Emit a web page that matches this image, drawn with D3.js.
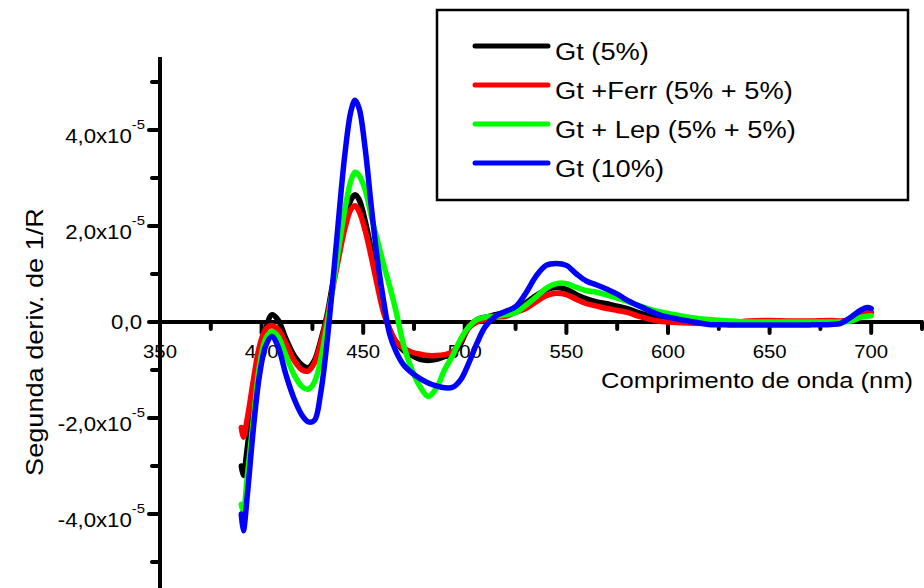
<!DOCTYPE html>
<html>
<head>
<meta charset="utf-8">
<script src="https://cdn.jsdelivr.net/npm/d3@7"></script>
<style>
  html, body { margin: 0; padding: 0; background: #fff; }
  svg { display: block; }
  text { font-family: "Liberation Sans", Arial, sans-serif; fill: #000; }
</style>
</head>
<body>
<svg id="chart" width="924" height="588"></svg>
<script>
// Wavelength grid (nm) shared by every spectrum
const wavelength = [390, 391, 393, 396, 399, 402, 405, 408, 412, 416, 420, 423, 426, 429, 432, 435, 438, 441, 444, 446, 448, 451, 454, 457, 460, 463, 466, 470, 474, 478, 482, 486, 490, 494, 498, 502, 506, 510, 515, 520, 525, 530, 535, 540, 545, 550, 555, 560, 565, 570, 575, 580, 585, 590, 595, 600, 610, 620, 630, 640, 650, 660, 670, 680, 685, 690, 695, 698, 700];

// Second derivative of 1/R, in units of 1e-5
const UNIT = 1e-5;
const gt5 = [-3.0, -3.2, -2.6, -1.6, -0.7, -0.15, 0.15, 0.05, -0.35, -0.7, -0.9, -0.95, -0.8, -0.4, 0.1, 0.8, 1.5, 2.1, 2.55, 2.65, 2.55, 2.1, 1.5, 0.85, 0.25, -0.15, -0.4, -0.6, -0.7, -0.78, -0.8, -0.78, -0.72, -0.68, -0.45, -0.1, 0.05, 0.1, 0.15, 0.2, 0.28, 0.4, 0.55, 0.67, 0.72, 0.68, 0.57, 0.48, 0.42, 0.38, 0.33, 0.28, 0.2, 0.14, 0.08, 0.04, 0.0, -0.03, -0.03, -0.02, -0.02, -0.02, -0.02, 0.0, 0.0, 0.05, 0.18, 0.22, 0.2];
const gtFerr = [-2.2, -2.4, -2.0, -1.2, -0.5, -0.15, -0.08, -0.15, -0.45, -0.8, -1.0, -1.02, -0.85, -0.45, 0.05, 0.7, 1.35, 1.95, 2.35, 2.42, 2.3, 1.9, 1.35, 0.75, 0.2, -0.15, -0.4, -0.55, -0.63, -0.67, -0.7, -0.7, -0.68, -0.62, -0.4, -0.12, 0.0, 0.05, 0.1, 0.12, 0.2, 0.28, 0.42, 0.55, 0.6, 0.57, 0.47, 0.38, 0.33, 0.28, 0.24, 0.2, 0.13, 0.07, 0.02, 0.0, -0.02, -0.03, -0.02, 0.02, 0.03, 0.02, 0.02, 0.03, 0.02, 0.05, 0.15, 0.2, 0.2];
const gtLep = [-3.8, -3.95, -3.2, -2.0, -0.9, -0.35, -0.2, -0.3, -0.7, -1.1, -1.35, -1.4, -1.25, -0.8, -0.1, 0.7, 1.55, 2.35, 2.95, 3.12, 3.05, 2.75, 2.2, 1.7, 1.2, 0.75, 0.25, -0.5, -1.0, -1.35, -1.55, -1.38, -1.0, -0.7, -0.35, -0.1, 0.05, 0.1, 0.12, 0.15, 0.2, 0.35, 0.52, 0.7, 0.8, 0.8, 0.72, 0.65, 0.62, 0.56, 0.5, 0.43, 0.35, 0.28, 0.22, 0.18, 0.1, 0.05, 0.02, 0.0, 0.0, 0.0, 0.0, 0.0, 0.0, 0.02, 0.1, 0.12, 0.13];
const gt10 = [-4.0, -4.35, -3.6, -2.2, -1.1, -0.5, -0.3, -0.5, -1.1, -1.6, -1.95, -2.08, -2.05, -1.5, -0.5, 0.8, 2.2, 3.5, 4.4, 4.62, 4.45, 3.6, 2.4, 1.3, 0.45, -0.25, -0.6, -0.9, -1.06, -1.18, -1.27, -1.33, -1.37, -1.36, -1.2, -0.85, -0.44, -0.1, 0.12, 0.22, 0.32, 0.6, 0.95, 1.18, 1.22, 1.18, 1.0, 0.85, 0.77, 0.68, 0.58, 0.45, 0.35, 0.25, 0.16, 0.1, 0.02, -0.05, -0.06, -0.06, -0.06, -0.06, -0.06, -0.05, -0.03, 0.1, 0.25, 0.3, 0.28];

const seriesNames = ["Gt (5%)", "Gt +Ferr (5% + 5%)", "Gt + Lep (5% + 5%)", "Gt (10%)"];
const seriesValues = [gt5, gtFerr, gtLep, gt10];
const seriesColors = ["#000000", "#ff0000", "#00ff00", "#0000ff"];

// Axis ticks
const xTickValues = [350, 400, 450, 500, 550, 600, 650, 700];
const xTickLabels = ["350", "400", "450", "500", "550", "600", "650", "700"];
const xMinorTicks = [375, 425, 475, 525, 575, 625, 675, 725];
const yTickValues = [4, 2, 0, -2, -4];          // in units of 1e-5
const yTickMantissa = ["4,0x10", "2,0x10", "0,0", "-2,0x10", "-4,0x10"];
const yTickExponent = ["-5", "-5", "", "-5", "-5"];
const yMinorTicks = [5, 3, 1, -1, -3, -5];

const xLabel = "Comprimento de onda (nm)";
const yLabel = "Segunda deriv. de 1/R";

const svg = d3.select("#chart");
const x = d3.scaleLinear().domain([350, 725]).range([160, 922]);
const y = d3.scaleLinear().domain([-5.5 * UNIT, 5.5 * UNIT]).range([586, 58]);

const AX_W = 4;
const SX_TICK = 1.14;   // horizontal stretch of the label lettering

// ---- X axis (drawn at y = 0) ----
const y0 = y(0);
const xAxis = svg.append("g");
xAxis.append("line")
  .attr("x1", x(350) - 2).attr("x2", x(725) + 1)
  .attr("y1", y0).attr("y2", y0)
  .attr("stroke", "#000").attr("stroke-width", AX_W);
xAxis.selectAll("line.major").data(xTickValues.slice(1)).join("line")
  .attr("class", "major")
  .attr("x1", d => x(d)).attr("x2", d => x(d))
  .attr("y1", y0).attr("y2", y0 + 11)
  .attr("stroke", "#000").attr("stroke-width", AX_W).attr("stroke-linecap", "round");
xAxis.selectAll("line.minor").data(xMinorTicks).join("line")
  .attr("class", "minor")
  .attr("x1", d => x(d)).attr("x2", d => x(d))
  .attr("y1", y0).attr("y2", y0 + 7)
  .attr("stroke", "#000").attr("stroke-width", AX_W).attr("stroke-linecap", "round");
xAxis.selectAll("text").data(xTickValues).join("text")
  .attr("transform", d => `translate(${x(d)},${y0 + 36}) scale(1.1,1)`)
  .attr("text-anchor", "middle")
  .style("font-size", "18.5px")
  .text((d, i) => xTickLabels[i]);

// ---- Y axis (drawn at x = 350 nm) ----
const x0 = x(350);
const yAxis = svg.append("g");
yAxis.append("line")
  .attr("x1", x0).attr("x2", x0)
  .attr("y1", y(5.5 * UNIT) - 1).attr("y2", 590)
  .attr("stroke", "#000").attr("stroke-width", AX_W);
yAxis.selectAll("line.major").data(yTickValues).join("line")
  .attr("class", "major")
  .attr("x1", x0 - 11).attr("x2", x0)
  .attr("y1", d => y(d * UNIT)).attr("y2", d => y(d * UNIT))
  .attr("stroke", "#000").attr("stroke-width", AX_W).attr("stroke-linecap", "round");
yAxis.selectAll("line.minor").data(yMinorTicks).join("line")
  .attr("class", "minor")
  .attr("x1", x0 - 8).attr("x2", x0)
  .attr("y1", d => y(d * UNIT)).attr("y2", d => y(d * UNIT))
  .attr("stroke", "#000").attr("stroke-width", AX_W).attr("stroke-linecap", "round");

const yLabels = yAxis.selectAll("text.tick").data(yTickValues).join("text")
  .attr("class", "tick")
  .attr("text-anchor", "end")
  .style("font-size", "19.5px")
  .attr("transform", (d, i) => yTickExponent[i]
    ? `translate(145,${y(d * UNIT) + 13}) scale(${SX_TICK},1)`
    : `translate(142,${y(d * UNIT) + 7}) scale(${SX_TICK},1)`);
yLabels.append("tspan").text((d, i) => yTickMantissa[i]);
yLabels.filter((d, i) => yTickExponent[i] !== "")
  .append("tspan")
  .attr("dy", -14)
  .style("font-size", "13px")
  .text((d, i) => "-5");

// ---- Axis titles ----
svg.append("text")
  .attr("transform", `translate(913,388) scale(1.16,1)`)
  .attr("text-anchor", "end")
  .style("font-size", "22px")
  .text(xLabel);

svg.append("text")
  .attr("transform", `translate(43,342) rotate(-90) scale(1.18,1)`)
  .attr("text-anchor", "middle")
  .style("font-size", "23px")
  .text(yLabel);

// ---- Spectra ----
const line = d3.line()
  .x(d => x(d[0]))
  .y(d => y(d[1] * UNIT))
  .curve(d3.curveCatmullRom.alpha(0.5));

svg.append("g").selectAll("path").data(seriesValues).join("path")
  .attr("d", vals => line(wavelength.map((w, i) => [w, vals[i]])))
  .attr("fill", "none")
  .attr("stroke", (d, i) => seriesColors[i])
  .attr("stroke-width", 5.5)
  .attr("stroke-linejoin", "round")
  .attr("stroke-linecap", "round");

// ---- Legend ----
const legend = svg.append("g");
legend.append("rect")
  .attr("x", 437).attr("y", 10).attr("width", 471).attr("height", 190)
  .attr("fill", "#fff").attr("stroke", "#000").attr("stroke-width", 2.5);
const rows = legend.selectAll("g.row").data(seriesNames).join("g")
  .attr("class", "row")
  .attr("transform", (d, i) => `translate(0,${46 + i * 39})`);
rows.append("line")
  .attr("x1", 475).attr("x2", 548).attr("y1", 0).attr("y2", 0)
  .attr("stroke", (d, i) => seriesColors[i])
  .attr("stroke-width", 5)
  .attr("stroke-linecap", "round");
rows.append("text")
  .attr("transform", "translate(555,14) scale(1.16,1)")
  .style("font-size", "23.5px")
  .text(d => d);
</script>
</body>
</html>
